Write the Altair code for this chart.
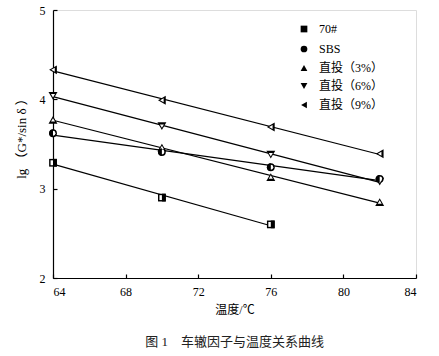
import altair as alt
import pandas as pd

temps = [64, 70, 76, 82]
series_names = ["70#", "SBS", "直投（3%）", "直投（6%）", "直投（9%）"]
v70 = [3.29, 2.90, 2.60]
vsbs = [3.62, 3.41, 3.24, 3.11]
v3 = [3.77, 3.46, 3.13, 2.85]
v6 = [4.04, 3.70, 3.38, 3.08]
v9 = [4.33, 3.99, 3.69, 3.39]
x_ticks = [64, 68, 72, 76, 80, 84]
y_ticks = [2, 3, 4, 5]

shapes = ["square", "circle", "triangle-up", "triangle-down", "triangle-left"]
outer_sizes = [60, 62, 80, 80, 80]
inner_sizes = [24, 24, 16, 16, 16]
halves = ["M0,-1L1,-1L1,1L0,1Z", "M0,-1A1,1,0,0,0,0,1Z", "", "", ""]

rows = []
for name, vals, shp, osz, isz, half in zip(series_names, [v70, vsbs, v3, v6, v9],
                                           shapes, outer_sizes, inner_sizes, halves):
    for t, v in zip(temps, vals):
        rows.append({"temp": t, "val": v, "series": name, "shp": shp,
                     "osz": osz, "isz": isz, "half": half})
df = pd.DataFrame(rows)

serif = "Liberation Serif, Noto Sans CJK SC"
W, H = 363, 268

xs = alt.Scale(domain=[64, 84], nice=False)
ys = alt.Scale(domain=[2, 5], nice=False)

base = alt.Chart(df)

lines = base.transform_regression("temp", "val", groupby=["series"]).mark_line(
    color="black", strokeWidth=1.2
).encode(
    x=alt.X("temp:Q", scale=xs, axis=alt.Axis(
        values=x_ticks, title="温度/℃", ticks=False, grid=False, domainColor="black",
        domainWidth=1.2, labelFont=serif, labelFontSize=12, labelColor="black",
        labelPadding=8, titleFont=serif, titleFontSize=12, titleFontWeight="normal",
        titleColor="black", titlePadding=7)),
    y=alt.Y("val:Q", scale=ys, axis=alt.Axis(
        values=y_ticks, title="lg （G*/sin δ ）", ticks=False, grid=False,
        domainColor="black", domainWidth=1.2, labelFont=serif, labelFontSize=12,
        labelColor="black", labelPadding=8, titleFont=serif, titleFontSize=13,
        titleFontWeight="normal", titleColor="black", titlePadding=11, titleY=125)),
    detail="series:N",
)

tick_axes = base.mark_text(text="").encode(
    x=alt.X("temp:Q", scale=xs, axis=alt.Axis(
        orient="top", offset=-H, values=x_ticks, labels=False, domain=False,
        ticks=True, tickSize=4, tickColor="black", tickWidth=1.2, grid=False, title=None)),
    y=alt.Y("val:Q", scale=ys, axis=alt.Axis(
        orient="right", offset=-W, values=y_ticks, labels=False, domain=False,
        ticks=True, tickSize=4, tickColor="black", tickWidth=1.2, grid=False, title=None)),
)

outer = base.mark_point(filled=True, color="black", opacity=1).encode(
    x=alt.X("temp:Q", scale=xs, axis=None),
    y=alt.Y("val:Q", scale=ys, axis=None),
    size=alt.Size("osz:Q", scale=None, legend=None),
    shape=alt.Shape("series:N", scale=alt.Scale(domain=series_names, range=shapes),
                    legend=alt.Legend(
                        title=None, orient="none", legendX=245, legendY=13,
                        labelFont=serif, labelFontSize=12, labelColor="black",
                        symbolSize=45, rowPadding=6, labelOffset=9)),
)

inner = base.mark_point(filled=True, color="white", opacity=1).encode(
    x=alt.X("temp:Q", scale=xs, axis=None),
    y=alt.Y("val:Q", scale=ys, axis=None),
    shape=alt.Shape("shp:N", scale=None, legend=None),
    size=alt.Size("isz:Q", scale=None, legend=None),
)

half = base.transform_filter("datum.half != ''").mark_point(
    filled=True, color="black", size=60, opacity=1).encode(
    x=alt.X("temp:Q", scale=xs, axis=None),
    y=alt.Y("val:Q", scale=ys, axis=None),
    shape=alt.Shape("half:N", scale=None, legend=None),
)

chart = alt.layer(lines, tick_axes, outer, inner, half).resolve_axis(
    x="independent", y="independent"
).properties(
    width=W, height=H,
    autosize=alt.AutoSizeParams(type="none"),
    padding={"left": 53, "top": 10, "right": 23, "bottom": 78},
    title=alt.TitleParams("图 1　车辙因子与温度关系曲线", orient="bottom", font=serif,
                          fontSize=13, fontWeight="normal", color="#222", offset=21,
                          anchor="middle"),
).configure_view(stroke=None).configure(background="white")

chart.save("out.html", embed_options={"renderer": "svg", "actions": False})
